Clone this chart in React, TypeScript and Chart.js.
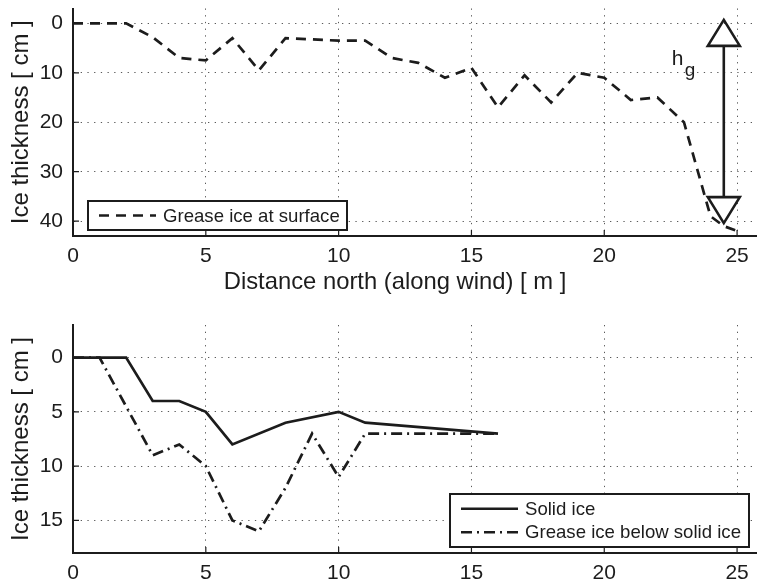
import React, { useEffect, useRef } from 'react';
import { Chart, registerables } from 'chart.js';

Chart.register(...registerables);

const FONT = '"Liberation Sans", Arial, Helvetica, sans-serif';
const INK = '#1c1c1c';
const GRID = '#5a5a5a';

// ---- data ----
const xTickValues = [0, 5, 10, 15, 20, 25];
const topYTickValues = [0, 10, 20, 30, 40];
const bottomYTickValues = [0, 5, 10, 15];

const surfaceDistance = [0, 2, 3, 4, 5, 6, 7, 8, 10, 11, 12, 13, 14, 15, 16, 17, 18, 19, 20, 21, 22, 23, 24, 24.5, 25];
const surfaceGrease = [0, 0, 2.8, 7, 7.5, 3, 9.5, 3, 3.5, 3.5, 7, 8, 11, 9, 17, 10.5, 16, 10, 11, 15.5, 15, 20, 39, 41, 42];

const solidDistance = [0, 2, 3, 4, 5, 6, 8, 10, 11, 16];
const solidIce = [0, 0, 4, 4, 5, 8, 6, 5, 6, 7];

const belowDistance = [0, 1, 3, 4, 5, 6, 7, 8, 9, 10, 11, 16];
const belowGrease = [0, 0, 9, 8, 10, 15, 16, 12, 7, 11, 7, 7];

// h_g arrow annotation (data units)
const arrowDistance = 24.5;
const arrowTopValue = -0.7;
const arrowBottomValue = 40.4;

const toPoints = (xs: number[], ys: number[]) => xs.map((x, i) => ({ x, y: ys[i] }));

const tickFont = { family: FONT, size: 21 };

function innerTicksPlugin() {
  return {
    id: 'innerTicks',
    afterDraw(chart: any) {
      const { ctx, chartArea } = chart;
      const xs = chart.scales.x;
      const ys = chart.scales.y;
      ctx.save();
      ctx.strokeStyle = INK;
      ctx.lineWidth = 1.2;
      ctx.setLineDash([]);
      ctx.beginPath();
      xs.ticks.forEach((t: any) => {
        const px = xs.getPixelForValue(t.value);
        ctx.moveTo(px, chartArea.bottom);
        ctx.lineTo(px, chartArea.bottom - 6);
      });
      ys.ticks.forEach((t: any) => {
        const py = ys.getPixelForValue(t.value);
        ctx.moveTo(chartArea.left, py);
        ctx.lineTo(chartArea.left + 6, py);
      });
      ctx.stroke();
      ctx.restore();
    },
  };
}

type LegendCfg = {
  anchor: 'left' | 'right';
  dx: number;
  bottomGap: number;
  width: number;
  rowH: number;
};

function boxLegendPlugin(cfg: LegendCfg) {
  return {
    id: 'boxLegend',
    afterDraw(chart: any) {
      const { ctx, chartArea } = chart;
      const dsets = chart.data.datasets;
      const h = dsets.length * cfg.rowH + 6;
      const left = cfg.anchor === 'left' ? chartArea.left + cfg.dx : chartArea.right - cfg.dx - cfg.width;
      const top = chartArea.bottom - cfg.bottomGap - h;
      ctx.save();
      ctx.fillStyle = '#ffffff';
      ctx.fillRect(left, top, cfg.width, h);
      ctx.strokeStyle = INK;
      ctx.lineWidth = 2;
      ctx.setLineDash([]);
      ctx.strokeRect(left, top, cfg.width, h);
      dsets.forEach((ds: any, i: number) => {
        const cy = top + 3 + cfg.rowH * (i + 0.5);
        ctx.beginPath();
        ctx.strokeStyle = ds.borderColor;
        ctx.lineWidth = ds.borderWidth;
        ctx.setLineDash(ds.borderDash || []);
        ctx.moveTo(left + 11, cy);
        ctx.lineTo(left + 68, cy);
        ctx.stroke();
        ctx.setLineDash([]);
        ctx.fillStyle = INK;
        ctx.font = `18.6px ${FONT}`;
        ctx.textAlign = 'left';
        ctx.textBaseline = 'middle';
        ctx.fillText(ds.label, left + 75, cy + 1);
      });
      ctx.restore();
    },
  };
}

function xTitlePlugin(text: string) {
  return {
    id: 'xTitle',
    afterDraw(chart: any) {
      const { ctx, chartArea } = chart;
      ctx.save();
      ctx.fillStyle = INK;
      ctx.font = `23.8px ${FONT}`;
      ctx.textAlign = 'center';
      ctx.textBaseline = 'alphabetic';
      ctx.fillText(text, chartArea.left + 322, chartArea.bottom + 53);
      ctx.restore();
    },
  };
}

function arrowPlugin() {
  return {
    id: 'hgArrow',
    afterDatasetsDraw(chart: any) {
      const { ctx } = chart;
      const xs = chart.scales.x;
      const ys = chart.scales.y;
      const px = xs.getPixelForValue(arrowDistance);
      const yTop = ys.getPixelForValue(arrowTopValue);
      const yBot = ys.getPixelForValue(arrowBottomValue);
      const triH = 26;
      const half = 16;
      ctx.save();
      ctx.strokeStyle = INK;
      ctx.lineWidth = 2.6;
      ctx.setLineDash([]);
      ctx.lineJoin = 'miter';
      ctx.beginPath();
      ctx.moveTo(px, yTop + triH);
      ctx.lineTo(px, yBot - triH);
      ctx.stroke();
      ctx.beginPath();
      ctx.moveTo(px, yTop);
      ctx.lineTo(px + half, yTop + triH);
      ctx.lineTo(px - half, yTop + triH);
      ctx.closePath();
      ctx.stroke();
      ctx.beginPath();
      ctx.moveTo(px, yBot);
      ctx.lineTo(px + half, yBot - triH);
      ctx.lineTo(px - half, yBot - triH);
      ctx.closePath();
      ctx.stroke();
      ctx.fillStyle = INK;
      ctx.textAlign = 'left';
      ctx.textBaseline = 'alphabetic';
      ctx.font = `21px ${FONT}`;
      ctx.fillText('h', px - 52, yTop + 45);
      ctx.font = `19px ${FONT}`;
      ctx.fillText('g', px - 39, yTop + 56);
      ctx.restore();
    },
  };
}

function makeScales(yMin: number, yMax: number, yTicks: number[], xHeight: number) {
  return {
    x: {
      type: 'linear',
      min: 0,
      max: 25.75,
      afterBuildTicks: (s: any) => {
        s.ticks = xTickValues.map((v) => ({ value: v }));
      },
      afterFit: (s: any) => {
        s.height = xHeight;
        s.paddingLeft = 0;
        s.paddingRight = 0;
      },
      ticks: { font: tickFont, color: INK, padding: 8, maxRotation: 0, callback: (v: any) => String(v) },
      grid: { color: GRID, lineWidth: 1, drawTicks: false },
      border: { display: true, color: INK, width: 2, dash: [1.3, 5.4] },
    },
    y: {
      type: 'linear',
      reverse: true,
      min: yMin,
      max: yMax,
      afterBuildTicks: (s: any) => {
        s.ticks = yTicks.map((v) => ({ value: v }));
      },
      afterFit: (s: any) => {
        s.width = 73;
        s.paddingTop = 0;
        s.paddingBottom = 0;
      },
      ticks: { font: tickFont, color: INK, padding: 10, callback: (v: any) => String(v) },
      grid: { color: GRID, lineWidth: 1, drawTicks: false },
      border: { display: true, color: INK, width: 2, dash: [1.3, 5.4] },
      title: {
        display: true,
        text: 'Ice thickness [ cm ]',
        color: INK,
        font: { family: FONT, size: 24 },
        padding: { top: 7, bottom: 0 },
      },
    },
  };
}

function TopChart() {
  const ref = useRef<HTMLCanvasElement | null>(null);
  useEffect(() => {
    if (!ref.current) return;
    const chart = new Chart(ref.current, {
      type: 'line',
      data: {
        datasets: [
          {
            label: 'Grease ice at surface',
            data: toPoints(surfaceDistance, surfaceGrease),
            borderColor: INK,
            borderWidth: 2.7,
            borderDash: [10, 7],
            pointRadius: 0,
            tension: 0,
            fill: false,
          },
        ],
      },
      options: {
        animation: false,
        responsive: false,
        layout: { padding: { top: 8.5, left: 0, right: 0, bottom: 0 } },
        plugins: { legend: { display: false }, tooltip: { enabled: false } },
        scales: makeScales(-3, 43, topYTickValues, 64) as any,
      },
      plugins: [
        innerTicksPlugin(),
        arrowPlugin(),
        boxLegendPlugin({ anchor: 'left', dx: 15, bottomGap: 6, width: 259, rowH: 23 }),
        xTitlePlugin('Distance north (along wind) [ m ]'),
      ],
    } as any);
    return () => chart.destroy();
  }, []);
  return <canvas ref={ref} width={757} height={300} style={{ display: 'block' }} />;
}

function BottomChart() {
  const ref = useRef<HTMLCanvasElement | null>(null);
  useEffect(() => {
    if (!ref.current) return;
    const chart = new Chart(ref.current, {
      type: 'line',
      data: {
        datasets: [
          {
            label: 'Solid ice',
            data: toPoints(solidDistance, solidIce),
            borderColor: INK,
            borderWidth: 2.7,
            borderDash: [],
            pointRadius: 0,
            tension: 0,
            fill: false,
          },
          {
            label: 'Grease ice below solid ice',
            data: toPoints(belowDistance, belowGrease),
            borderColor: INK,
            borderWidth: 2.7,
            borderDash: [11, 5, 2, 5],
            pointRadius: 0,
            tension: 0,
            fill: false,
          },
        ],
      },
      options: {
        animation: false,
        responsive: false,
        layout: { padding: { top: 25, left: 0, right: 0, bottom: 0 } },
        plugins: { legend: { display: false }, tooltip: { enabled: false } },
        scales: makeScales(-3, 18, bottomYTickValues, 31) as any,
      },
      plugins: [
        innerTicksPlugin(),
        boxLegendPlugin({ anchor: 'right', dx: 8, bottomGap: 6, width: 299, rowH: 23.5 }),
      ],
    } as any);
    return () => chart.destroy();
  }, []);
  return <canvas ref={ref} width={757} height={284} style={{ display: 'block' }} />;
}

export default function App() {
  return (
    <div
      style={{
        position: 'absolute',
        left: 0,
        top: 0,
        width: 757,
        height: 584,
        background: '#ffffff',
        overflow: 'hidden',
      }}
    >
      <TopChart />
      <BottomChart />
    </div>
  );
}
